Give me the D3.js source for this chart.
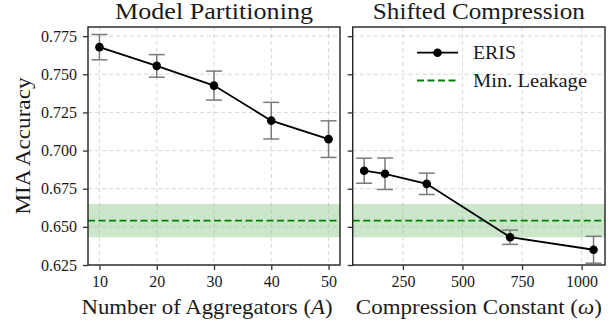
<!DOCTYPE html>
<html>
<head>
<meta charset="utf-8">
<script src="https://cdn.jsdelivr.net/npm/d3@7"></script>
<style>
  html, body { margin: 0; padding: 0; background: #fff; }
  svg { display: block; }
  text { font-family: "Liberation Serif", "Times New Roman", serif; fill: #1a1a1a; }
</style>
</head>
<body>
<svg id="chart" width="611" height="326"></svg>
<script>
// MIA accuracy of ERIS under two mitigation settings
const aggregators = [10, 20, 30, 40, 50];
const partitionAcc = [0.7678, 0.7555, 0.7426, 0.7196, 0.7075];
const partitionErr = [0.0083, 0.0074, 0.0095, 0.0120, 0.0120];

const compression = [87.5, 175, 350, 700, 1050];
const compressionAcc = [0.6868, 0.6848, 0.6782, 0.6432, 0.6350];
const compressionErr = [0.0082, 0.0103, 0.0070, 0.0047, 0.0088];

const minLeakage = 0.6541;
const minLeakageErr = 0.0109;

const yTicks = [0.625, 0.650, 0.675, 0.700, 0.725, 0.750, 0.775];
const xTicksLeft = [10, 20, 30, 40, 50];
const xTicksRight = [250, 500, 750, 1000];

const svg = d3.select("#chart");
const plotTop = 27, plotBottom = 265;

const y = d3.scaleLinear().domain([0.625, 0.781]).range([plotBottom, plotTop]);

const panels = [
  {
    left: 88, right: 340, title: "Model Partitioning", titleLen: 198,
    xs: aggregators, ys: partitionAcc, errs: partitionErr,
    domain: [8, 52], ticks: xTicksLeft, fmt: d3.format("d"),
    label: ["Number of Aggregators (", "A", ")"], labelLen: 251, labelShift: -7,
    yLabels: true, legend: false
  },
  {
    left: 352.7, right: 605, title: "Shifted Compression", titleLen: 212,
    xs: compression, ys: compressionAcc, errs: compressionErr,
    domain: [39.4, 1098.1], ticks: xTicksRight, fmt: d3.format("d"),
    label: ["Compression Constant (", "ω", ")"], labelLen: 246, labelShift: 0,
    yLabels: false, legend: true
  }
];

panels.forEach(p => {
  const x = d3.scaleLinear().domain(p.domain).range([p.left, p.right]);
  const g = svg.append("g");

  // min-leakage band
  g.append("rect")
    .attr("x", p.left).attr("width", p.right - p.left)
    .attr("y", y(minLeakage + minLeakageErr))
    .attr("height", y(minLeakage - minLeakageErr) - y(minLeakage + minLeakageErr))
    .attr("fill", "green").attr("fill-opacity", 0.2);

  // grid
  g.append("g").selectAll("line").data(p.ticks).join("line")
    .attr("x1", d => x(d)).attr("x2", d => x(d))
    .attr("y1", plotTop).attr("y2", plotBottom)
    .attr("stroke", "#b0b0b0").attr("stroke-opacity", 0.5)
    .attr("stroke-width", 1).attr("stroke-dasharray", "4,3");
  g.append("g").selectAll("line").data(yTicks).join("line")
    .attr("x1", p.left).attr("x2", p.right)
    .attr("y1", d => y(d)).attr("y2", d => y(d))
    .attr("stroke", "#b0b0b0").attr("stroke-opacity", 0.5)
    .attr("stroke-width", 1).attr("stroke-dasharray", "4,3");

  // min-leakage line
  g.append("line")
    .attr("x1", p.left).attr("x2", p.right)
    .attr("y1", y(minLeakage)).attr("y2", y(minLeakage))
    .attr("stroke", "#008000").attr("stroke-width", 1.8)
    .attr("stroke-dasharray", "7,3.5");

  // error bars
  const pts = p.xs.map((v, i) => ({ x: v, y: p.ys[i], e: p.errs[i] }));
  const eb = g.append("g").attr("stroke", "#7a7a7a").attr("stroke-width", 1.5);
  eb.selectAll(".v").data(pts).join("line")
    .attr("x1", d => x(d.x)).attr("x2", d => x(d.x))
    .attr("y1", d => y(d.y - d.e)).attr("y2", d => y(d.y + d.e));
  eb.selectAll(".t").data(pts).join("line")
    .attr("x1", d => x(d.x) - 8).attr("x2", d => x(d.x) + 8)
    .attr("y1", d => y(d.y + d.e)).attr("y2", d => y(d.y + d.e));
  eb.selectAll(".b").data(pts).join("line")
    .attr("x1", d => x(d.x) - 8).attr("x2", d => x(d.x) + 8)
    .attr("y1", d => y(d.y - d.e)).attr("y2", d => y(d.y - d.e));

  // series line + markers
  g.append("path").datum(pts)
    .attr("d", d3.line().x(d => x(d.x)).y(d => y(d.y)))
    .attr("fill", "none").attr("stroke", "#000").attr("stroke-width", 1.8);
  g.append("g").selectAll("circle").data(pts).join("circle")
    .attr("cx", d => x(d.x)).attr("cy", d => y(d.y)).attr("r", 4.3)
    .attr("fill", "#000");

  // frame
  g.append("rect")
    .attr("x", p.left).attr("y", plotTop)
    .attr("width", p.right - p.left).attr("height", plotBottom - plotTop)
    .attr("fill", "none").attr("stroke", "#222").attr("stroke-width", 1.4);

  // x axis
  const xa = g.append("g").attr("transform", `translate(0,${plotBottom})`)
    .call(d3.axisBottom(x).tickValues(p.ticks).tickFormat(p.fmt).tickSizeOuter(0).tickSize(5).tickPadding(6));
  xa.select(".domain").remove();
  xa.selectAll("line").attr("stroke", "#333").attr("stroke-width", 1.3);
  xa.selectAll("text").attr("font-size", 16).attr("font-family", "Liberation Serif").attr("fill", "#222");

  // y axis
  const ya = g.append("g").attr("transform", `translate(${p.left},0)`)
    .call(d3.axisLeft(y).tickValues(yTicks).tickFormat(p.yLabels ? d3.format(".3f") : "").tickSizeOuter(0).tickSize(5).tickPadding(6));
  ya.select(".domain").remove();
  ya.selectAll("line").attr("stroke", "#333").attr("stroke-width", 1.3);
  ya.selectAll("text").attr("font-size", 16).attr("font-family", "Liberation Serif").attr("fill", "#222");

  // title
  g.append("text")
    .attr("x", (p.left + p.right) / 2).attr("y", 19)
    .attr("text-anchor", "middle").attr("font-size", 22.5)
    .attr("textLength", p.titleLen).attr("lengthAdjust", "spacingAndGlyphs")
    .text(p.title);

  // x label
  const xl = g.append("text")
    .attr("x", (p.left + p.right) / 2 + p.labelShift).attr("y", 314)
    .attr("text-anchor", "middle").attr("font-size", 22)
    .attr("textLength", p.labelLen).attr("lengthAdjust", "spacingAndGlyphs");
  xl.append("tspan").text(p.label[0]);
  xl.append("tspan").attr("font-style", "italic").text(p.label[1]);
  xl.append("tspan").text(p.label[2]);

  if (p.legend) {
    const lg = g.append("g");
    lg.append("line").attr("x1", 417).attr("x2", 458).attr("y1", 52.7).attr("y2", 52.7)
      .attr("stroke", "#000").attr("stroke-width", 1.8);
    lg.append("circle").attr("cx", 437.5).attr("cy", 52.7).attr("r", 4.3).attr("fill", "#000");
    lg.append("text").attr("x", 473).attr("y", 59).attr("font-size", 19.5)
      .attr("textLength", 43).attr("lengthAdjust", "spacingAndGlyphs").text("ERIS");
    lg.append("line").attr("x1", 417).attr("x2", 458).attr("y1", 80.5).attr("y2", 80.5)
      .attr("stroke", "#008000").attr("stroke-width", 1.8).attr("stroke-dasharray", "7,3.5");
    lg.append("text").attr("x", 473).attr("y", 87).attr("font-size", 19.5)
      .attr("textLength", 114).attr("lengthAdjust", "spacingAndGlyphs").text("Min. Leakage");
  }
});

// shared y label
svg.append("text")
  .attr("transform", `translate(30,${(plotTop + plotBottom) / 2}) rotate(-90)`)
  .attr("text-anchor", "middle").attr("font-size", 22)
  .attr("textLength", 137).attr("lengthAdjust", "spacingAndGlyphs")
  .text("MIA Accuracy");
</script>
</body>
</html>
